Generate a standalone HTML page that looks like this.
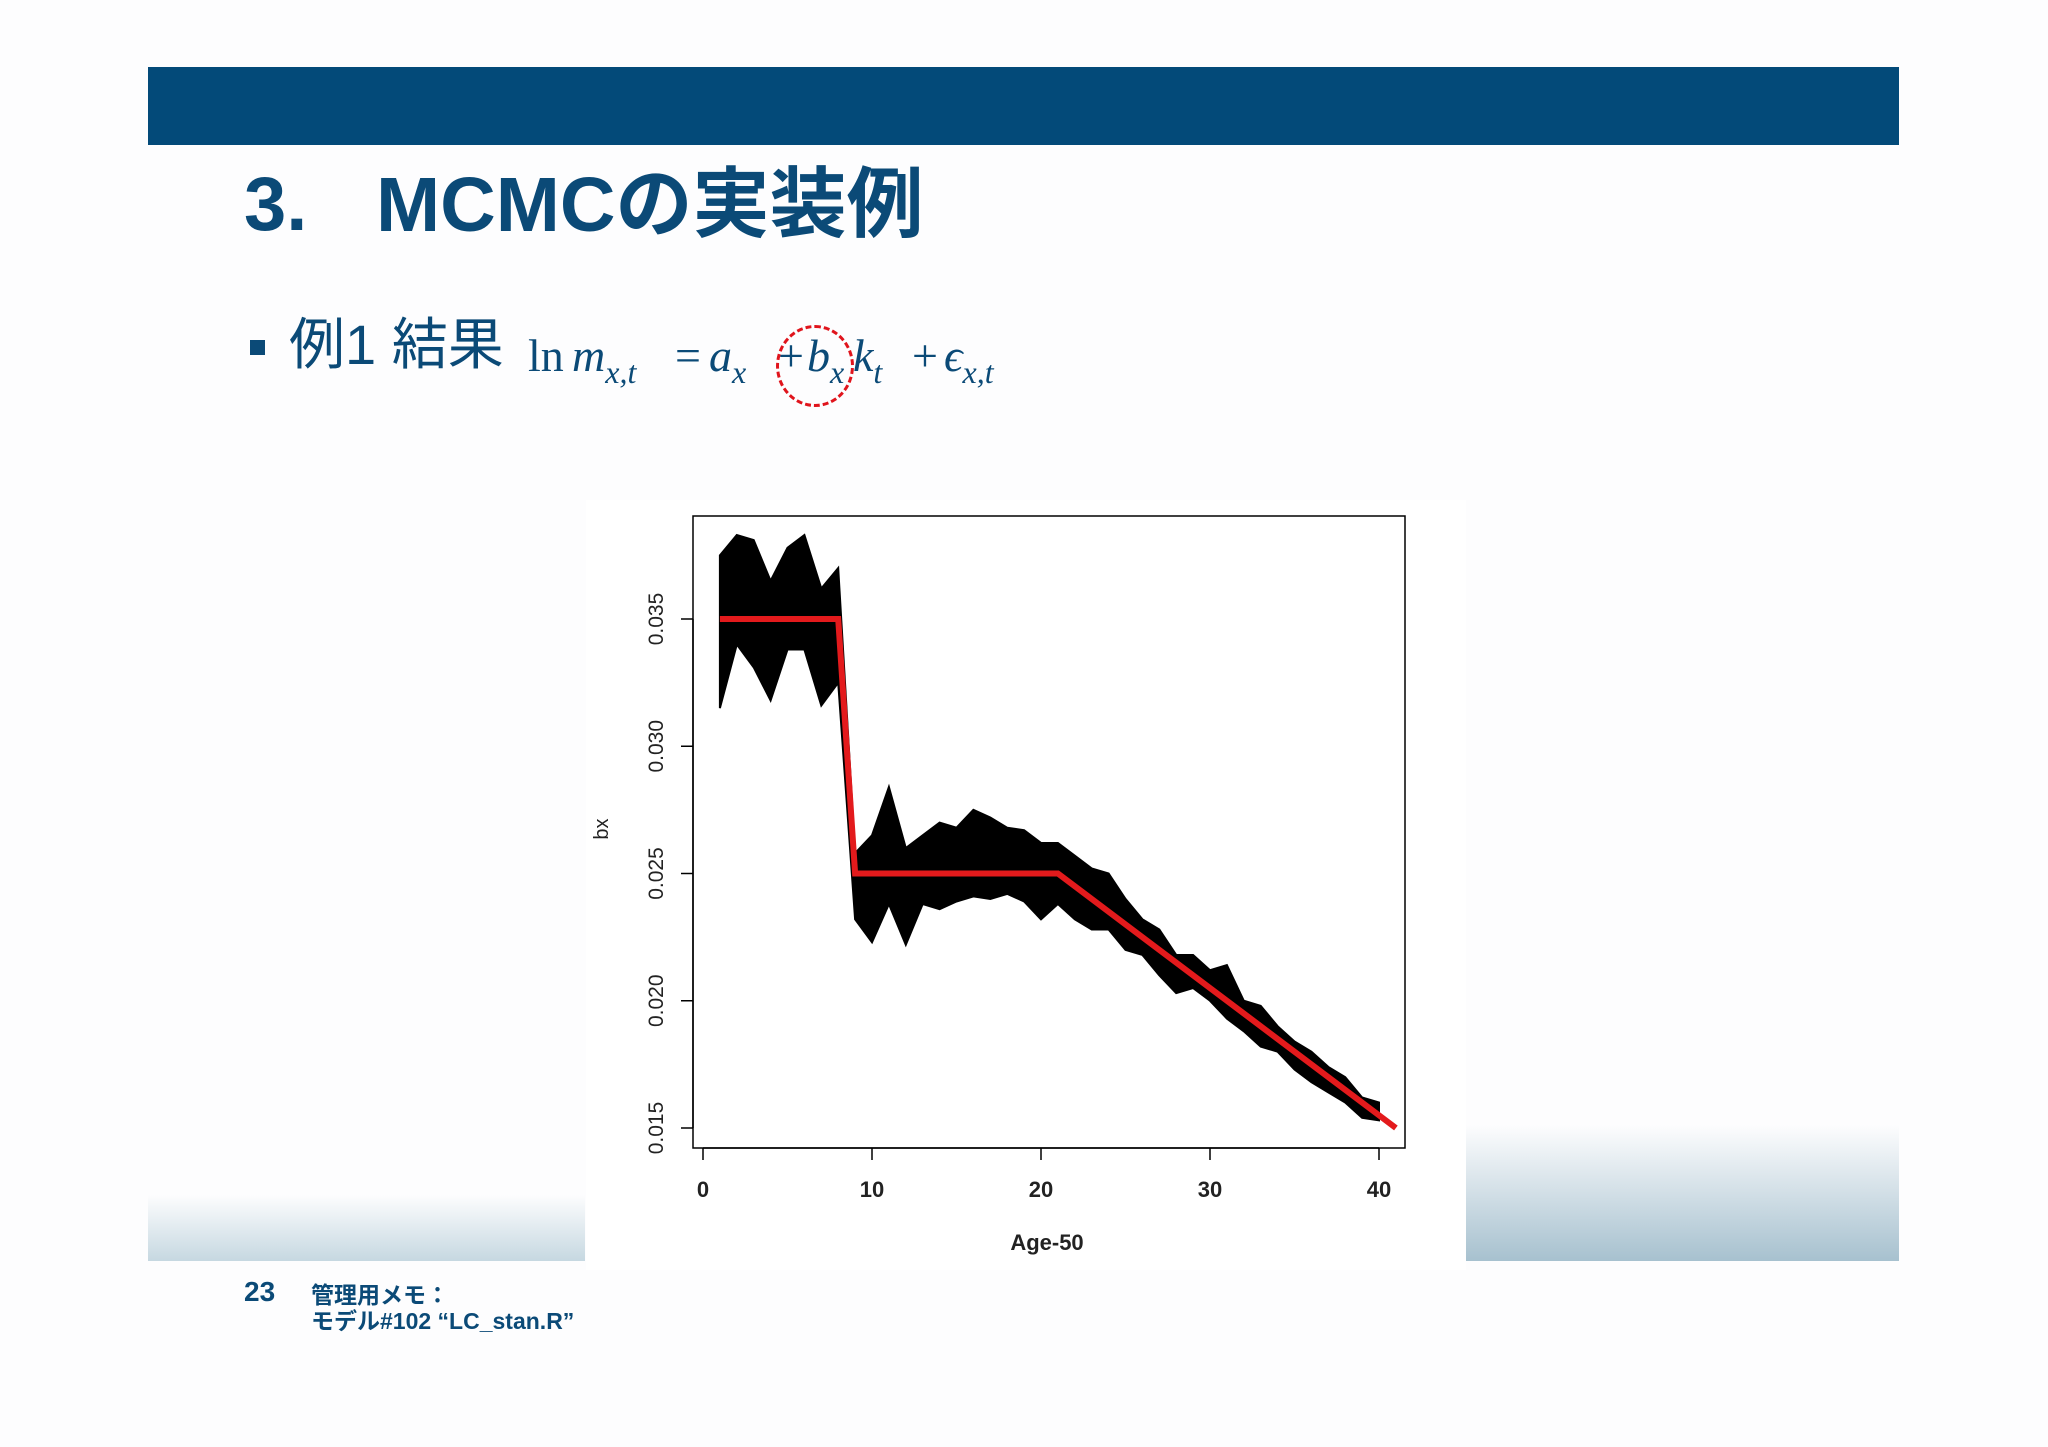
<!DOCTYPE html>
<html><head><meta charset="utf-8">
<style>
html,body{margin:0;padding:0;background:#fdfdfe;}
body{width:2048px;height:1447px;position:relative;overflow:hidden;font-family:"Liberation Sans","Noto Sans CJK JP",sans-serif;}
.abs{position:absolute;}
.f{position:absolute;top:0;font-family:'Liberation Serif',serif;font-size:46px;color:#0b4a77;line-height:1;white-space:nowrap;}
.f i{font-style:italic;}
.s{font-size:32px;position:relative;top:12px;font-style:italic;}
</style></head>
<body>
<div class="abs" style="left:148px;top:67px;width:1751px;height:78px;background:#034a79;"></div>
<div class="abs" style="left:244px;top:160px;font-size:76px;font-weight:bold;color:#0b4a77;line-height:90px;white-space:nowrap;">3.</div>
<div class="abs" style="left:376px;top:160px;font-size:77px;font-weight:bold;color:#0b4a77;line-height:90px;white-space:nowrap;">MCMCの実装例</div>
<div class="abs" style="left:250px;top:340px;width:15px;height:15px;background:#0b4a77;"></div>
<div class="abs" style="left:289px;top:312px;font-size:56px;color:#0b4a77;line-height:66px;white-space:nowrap;">例1 結果</div>
<div class="abs" style="left:0;top:333px;width:1100px;height:60px;">
<span class="f" style="left:528px">ln</span>
<span class="f" style="left:572px"><i>m</i><span class="s">x,t</span></span>
<span class="f" style="left:675px">=</span>
<span class="f" style="left:709px"><i>a</i><span class="s">x</span></span>
<span class="f" style="left:778px">+</span>
<span class="f" style="left:807px"><i>b</i><span class="s">x</span></span>
<span class="f" style="left:853px"><i>k</i><span class="s">t</span></span>
<span class="f" style="left:912px">+</span>
<span class="f" style="left:944px"><i>ϵ</i><span class="s">x,t</span></span>
</div>
<div class="abs" style="left:776px;top:325px;width:72px;height:76px;border:3px dashed #e0141c;border-radius:50%;"></div>

<div class="abs" style="left:148px;top:1195px;width:437px;height:66px;background:linear-gradient(#fdfdfe,#c6d8e1);"></div>
<div class="abs" style="left:1461px;top:1125px;width:438px;height:136px;background:linear-gradient(#fdfdfe,#a7c1cf);"></div>
<div class="abs" style="left:244px;top:1276px;font-size:28px;font-weight:bold;color:#0b4a77;">23</div>
<div class="abs" style="left:311px;top:1282px;font-size:23px;font-weight:bold;color:#0b4a77;line-height:26px;white-space:nowrap;">管理用メモ：<br>モデル#102 “LC_stan.R”</div>

<svg class="abs" style="left:0;top:0" width="2048" height="1447">
<rect x="586" y="500" width="880" height="770" fill="#fff"/>
<g id="g"></g>
</svg>
<script>
const ages=[1,2,3,4,5,6,7,8,9,10,11,12,13,14,15,16,17,18,19,20,21,22,23,24,25,26,27,28,29,30,31,32,33,34,35,36,37,38,39,40];
const upper=[0.0375,0.0383,0.0381,0.0365,0.0378,0.0383,0.0362,0.0370,0.0258,0.0265,0.0284,0.0260,0.0265,0.0270,0.0268,0.0275,0.0272,0.0268,0.0267,0.0262,0.0262,0.0257,0.0252,0.0250,0.0240,0.0232,0.0228,0.0218,0.0218,0.0212,0.0214,0.0200,0.0198,0.0190,0.0184,0.0180,0.0174,0.0170,0.0162,0.0160];
const lower=[0.0315,0.0340,0.0331,0.0318,0.0338,0.0338,0.0316,0.0325,0.0232,0.0223,0.0238,0.0222,0.0238,0.0236,0.0239,0.0241,0.0240,0.0242,0.0239,0.0232,0.0238,0.0232,0.0228,0.0228,0.0220,0.0218,0.0210,0.0203,0.0205,0.0200,0.0193,0.0188,0.0182,0.0180,0.0173,0.0168,0.0164,0.0160,0.0154,0.0153];
const trueX=[1,8,9,21,41];
const trueY=[0.035,0.035,0.025,0.025,0.015];
const xTicks=[0,10,20,30,40];
const yTicks=[0.015,0.020,0.025,0.030,0.035];
const yLabels=["0.015","0.020","0.025","0.030","0.035"];

const X=v=>703+(v-0)*(1379-703)/40;
const Y=v=>1128-(v-0.015)*(1128-619)/0.020;
const NS="http://www.w3.org/2000/svg";
const g=document.getElementById('g');
function mk(t,a){const e=document.createElementNS(NS,t);for(const k in a)e.setAttribute(k,a[k]);g.appendChild(e);return e;}

let pts=ages.map((a,i)=>X(a)+','+Y(upper[i]));
for(let i=ages.length-1;i>=0;i--)pts.push(X(ages[i])+','+Y(lower[i]));
const band=mk('polygon',{points:pts.join(' '),fill:'#000',stroke:'#000','stroke-width':2,'stroke-linejoin':'miter'});



const red=mk('polyline',{points:trueX.map((a,i)=>X(a)+','+Y(trueY[i])).join(' '),fill:'none',stroke:'#e31a1c','stroke-width':6});



const box=mk('rect',{x:693,y:516,width:712,height:632,fill:'none',stroke:'#000','stroke-width':1.5});



const xa=mk('line',{x1:X(0),x2:X(40),y1:1148,y2:1148,stroke:'#000','stroke-width':1.5});


xTicks.forEach(t=>{
  const l=mk('line',{x1:X(t),x2:X(t),y1:1148,y2:1160,stroke:'#000','stroke-width':1.5});
  
  
  const tx=mk('text',{x:X(t),y:1197,'text-anchor':'middle','font-size':22,'font-weight':'bold','font-family':'Liberation Sans, sans-serif',fill:'#222'});
  tx.textContent=t;
  
  
});
const ya=mk('line',{x1:693,x2:693,y1:Y(0.015),y2:Y(0.035),stroke:'#000','stroke-width':1.5});


yTicks.forEach((t,i)=>{
  const l=mk('line',{x1:681,x2:693,y1:Y(t),y2:Y(t),stroke:'#000','stroke-width':1.5});
  
  
  const tx=mk('text',{x:0,y:0,transform:`translate(663,${Y(t)}) rotate(-90)`,'text-anchor':'middle','font-size':21,'font-family':'Liberation Sans, sans-serif',fill:'#222'});
  tx.textContent=yLabels[i];
  
  
});
const xt=mk('text',{x:1047,y:1250,'text-anchor':'middle','font-size':22,'font-weight':'bold','font-family':'Liberation Sans, sans-serif',fill:'#222'});
xt.textContent='Age-50';


const yt=mk('text',{x:0,y:0,transform:'translate(608,829) rotate(-90)','text-anchor':'middle','font-size':20,'font-family':'Liberation Sans, sans-serif',fill:'#222'});
yt.textContent='bx';


</script>
</body></html>
